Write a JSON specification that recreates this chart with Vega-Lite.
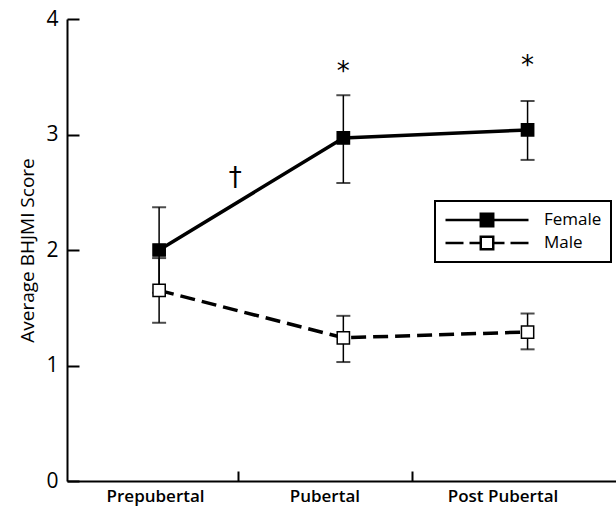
{
  "$schema": "https://vega.github.io/schema/vega-lite/v6.json",
  "width": 549,
  "height": 462,
  "autosize": "none",
  "padding": {"left": 67, "top": 19, "right": 0, "bottom": 31},
  "background": "white",
  "config": {"view": {"stroke": null}, "font": "Open Sans"},
  "datasets": {
    "scores": [
      {"stage": 1, "sex": "Female", "mean": 2.0, "lo": 1.63, "hi": 2.37},
      {"stage": 2, "sex": "Female", "mean": 2.97, "lo": 2.58, "hi": 3.34},
      {"stage": 3, "sex": "Female", "mean": 3.04, "lo": 2.78, "hi": 3.29},
      {"stage": 1, "sex": "Male", "mean": 1.65, "lo": 1.37, "hi": 1.93},
      {"stage": 2, "sex": "Male", "mean": 1.24, "lo": 1.03, "hi": 1.43},
      {"stage": 3, "sex": "Male", "mean": 1.29, "lo": 1.14, "hi": 1.45}
    ],
    "notes": [
      {"stage": 1.413, "y": 2.62, "mark": "†"},
      {"stage": 2.0, "y": 3.54, "mark": "*"},
      {"stage": 3.0, "y": 3.59, "mark": "*"}
    ]
  },
  "layer": [
    {
      "data": {"name": "scores"},
      "transform": [{"filter": "datum.sex == 'Female'"}],
      "mark": {"type": "line", "color": "black", "strokeWidth": 3.5},
      "encoding": {
        "x": {
          "field": "stage", "type": "quantitative",
          "scale": {"domain": [0.5, 3.48], "nice": false, "zero": false},
          "axis": {
            "title": null,
            "values": [0.978, 1.429, 1.897, 2.375, 2.864],
            "labelExpr": "datum.value == 0.978 ? 'Prepubertal' : datum.value == 1.897 ? 'Pubertal' : datum.value == 2.864 ? 'Post Pubertal' : ''",
            "labelFontSize": 17, "labelFontWeight": 600, "labelColor": "black",
            "labelOverlap": false, "labelFlush": false, "labelPadding": 17,
            "domainColor": "black", "domainWidth": 2,
            "tickColor": "black", "tickWidth": 2, "tickSize": -10,
            "tickOpacity": {"condition": {"test": "datum.value == 1.429 || datum.value == 2.375", "value": 1}, "value": 0},
            "grid": false
          }
        },
        "y": {
          "field": "mean", "type": "quantitative",
          "scale": {"domain": [0, 4], "nice": false},
          "axis": {
            "title": "Average BHJMI Score",
            "titleFontSize": 19, "titleFontWeight": "normal", "titleColor": "black", "titlePadding": 8,
            "values": [0, 1, 2, 3, 4], "format": "d",
            "labelFontSize": 21, "labelColor": "black", "labelPadding": 21,
            "domainColor": "black", "domainWidth": 2,
            "tickColor": "black", "tickWidth": 2, "tickSize": -12,
            "grid": false
          }
        }
      }
    },
    {
      "data": {"name": "scores"},
      "transform": [{"filter": "datum.sex == 'Male'"}],
      "mark": {"type": "line", "color": "black", "strokeWidth": 3.5, "strokeDash": [15, 7]},
      "encoding": {
        "x": {"field": "stage", "type": "quantitative"},
        "y": {"field": "mean", "type": "quantitative"}
      }
    },
    {
      "data": {"name": "scores"},
      "mark": {"type": "rule", "color": "black", "strokeWidth": 1.5},
      "encoding": {
        "x": {"field": "stage", "type": "quantitative"},
        "y": {"field": "lo", "type": "quantitative"},
        "y2": {"field": "hi"}
      }
    },
    {
      "data": {"name": "scores"},
      "mark": {"type": "tick", "orient": "horizontal", "color": "black", "size": 14, "thickness": 2},
      "encoding": {
        "x": {"field": "stage", "type": "quantitative"},
        "y": {"field": "lo", "type": "quantitative"}
      }
    },
    {
      "data": {"name": "scores"},
      "mark": {"type": "tick", "orient": "horizontal", "color": "black", "size": 14, "thickness": 2},
      "encoding": {
        "x": {"field": "stage", "type": "quantitative"},
        "y": {"field": "hi", "type": "quantitative"}
      }
    },
    {
      "data": {"name": "scores"},
      "mark": {"type": "point", "shape": "square", "size": 150, "filled": true, "stroke": "black", "strokeWidth": 1.5, "opacity": 1},
      "encoding": {
        "x": {"field": "stage", "type": "quantitative"},
        "y": {"field": "mean", "type": "quantitative"},
        "fill": {
          "field": "sex", "type": "nominal",
          "scale": {"domain": ["Female", "Male"], "range": ["black", "white"]},
          "legend": {
            "title": null,
            "orient": "none", "legendX": 368, "legendY": 182,
            "symbolType": "M-1,0H-0.15V-0.15H0.15V0.15H-0.15V0M1,0H0.15",
            "symbolSize": 6889, "symbolStrokeWidth": 2.5, "symbolStrokeColor": "black", "symbolOpacity": 1,
            "clipHeight": 20, "padding": 9, "rowPadding": 3,
            "labelFontSize": 17, "labelColor": "black", "labelOffset": 14,
            "strokeColor": "black", "fillColor": "white",
            "encode": {
              "legend": {"update": {"strokeWidth": {"value": 2}}},
              "symbols": {"update": {
                "shape": {"value": "M-1,0H-0.15V-0.15H0.15V0.15H-0.15V0M1,0H0.15"},
                "stroke": {"value": "black"},
                "opacity": {"value": 1},
                "strokeDash": {"signal": "datum.value == 'Male' ? [18, 6, 62, 6] : [1, 0]"}
              }}
            }
          }
        }
      }
    },
    {
      "data": {"name": "notes"},
      "mark": {"type": "text", "fontSize": 26, "color": "black", "baseline": "middle", "align": "center", "font": "DejaVu Sans"},
      "encoding": {
        "x": {"field": "stage", "type": "quantitative"},
        "y": {"field": "y", "type": "quantitative"},
        "text": {"field": "mark"}
      }
    }
  ]
}
